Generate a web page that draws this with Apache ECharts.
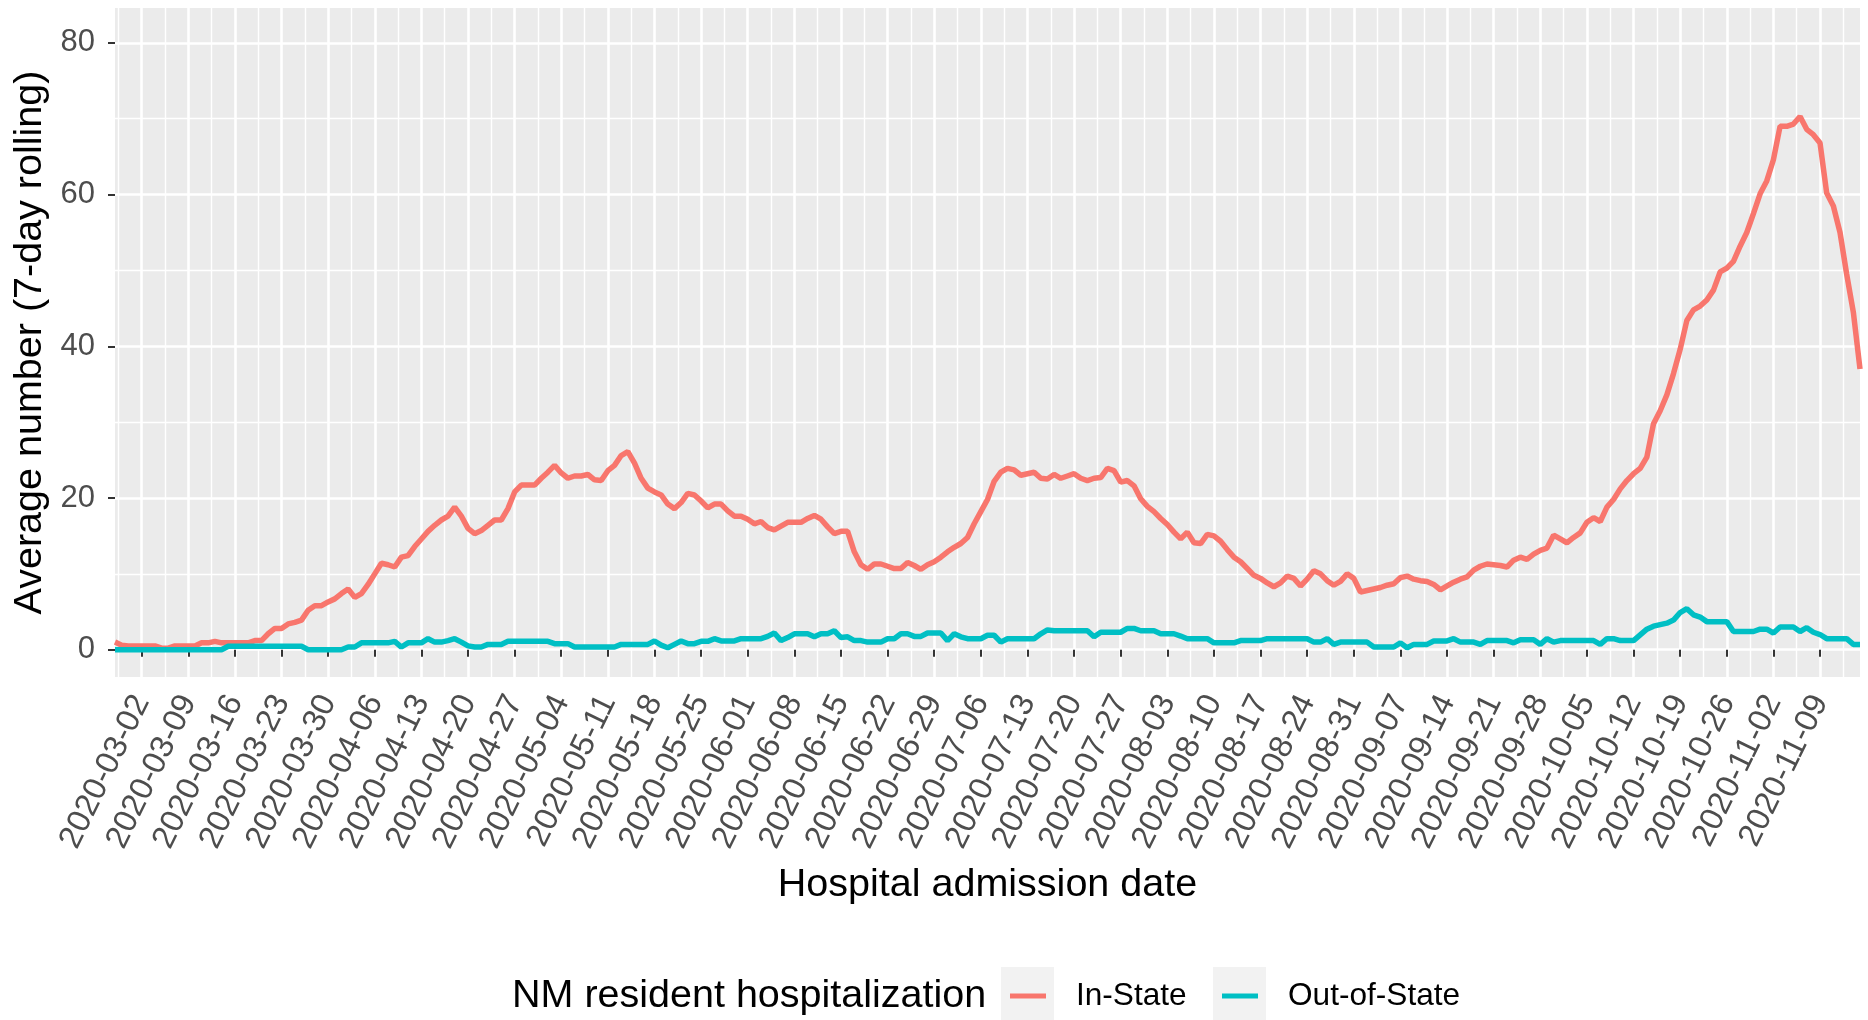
<!DOCTYPE html>
<html><head><meta charset="utf-8">
<script src="https://cdn.jsdelivr.net/npm/echarts@6/dist/echarts.min.js"></script>
<style>html,body{margin:0;padding:0;background:#fff}#c{width:1868px;height:1020px}</style>
</head><body><div id="c"></div>
<script>
// ---- data ----
const startDate = '2020-02-27'; // first day of the series (day index 0)
const weekTickLabels = ['2020-03-02','2020-03-09','2020-03-16','2020-03-23','2020-03-30','2020-04-06','2020-04-13','2020-04-20','2020-04-27','2020-05-04','2020-05-11','2020-05-18','2020-05-25','2020-06-01','2020-06-08','2020-06-15','2020-06-22','2020-06-29','2020-07-06','2020-07-13','2020-07-20','2020-07-27','2020-08-03','2020-08-10','2020-08-17','2020-08-24','2020-08-31','2020-09-07','2020-09-14','2020-09-21','2020-09-28','2020-10-05','2020-10-12','2020-10-19','2020-10-26','2020-11-02','2020-11-09'];
const yTickValues = [0, 20, 40, 60, 80];
const yMinorValues = [10, 30, 50, 70];
const seriesNames = ['In-State', 'Out-of-State'];
// daily 7-day rolling averages, 2020-02-27 .. 2020-11-15
const inState = [
1.0,0.6,0.5,0.5,0.5,0.5,0.5,0.2,0.2,0.5,
0.5,0.5,0.5,0.9,0.9,1.1,0.9,0.9,0.9,0.9,
0.9,1.2,1.2,2.1,2.8,2.8,3.4,3.6,3.9,5.2,
5.8,5.8,6.3,6.7,7.4,8.0,6.9,7.4,8.6,10.0,
11.4,11.2,10.9,12.2,12.4,13.6,14.6,15.6,16.4,17.1,
17.6,18.8,17.6,16.0,15.3,15.7,16.4,17.1,17.1,18.6,
20.8,21.7,21.7,21.7,22.6,23.4,24.3,23.3,22.6,22.9,
22.9,23.1,22.4,22.3,23.6,24.3,25.6,26.1,24.6,22.6,
21.3,20.8,20.4,19.2,18.6,19.4,20.6,20.4,19.6,18.7,
19.2,19.2,18.3,17.6,17.6,17.2,16.6,16.9,16.1,15.8,
16.3,16.8,16.8,16.8,17.3,17.7,17.2,16.2,15.3,15.6,
15.6,12.9,11.2,10.6,11.3,11.3,11.0,10.7,10.7,11.5,
11.1,10.6,11.2,11.6,12.2,12.9,13.5,14.0,14.8,16.6,
18.2,19.8,22.2,23.4,23.9,23.7,23.0,23.2,23.4,22.6,
22.5,23.1,22.6,22.9,23.2,22.6,22.3,22.6,22.7,23.9,
23.6,22.1,22.3,21.6,19.9,18.9,18.2,17.3,16.5,15.5,
14.6,15.5,14.1,14.0,15.2,15.0,14.3,13.2,12.2,11.6,
10.7,9.8,9.4,8.8,8.3,8.8,9.7,9.4,8.4,9.3,
10.4,10.0,9.1,8.5,9.0,10.0,9.4,7.6,7.8,8.0,
8.2,8.5,8.7,9.5,9.7,9.3,9.1,9.0,8.6,7.9,
8.4,8.9,9.3,9.6,10.5,11.0,11.3,11.2,11.1,10.9,
11.8,12.2,11.9,12.6,13.1,13.4,15.1,14.6,14.1,14.8,
15.4,16.8,17.4,16.9,18.8,19.8,21.2,22.3,23.2,23.9,
25.4,29.8,31.5,33.6,36.4,39.6,43.4,44.8,45.3,46.1,
47.4,49.8,50.3,51.2,53.2,55.0,57.5,60.1,61.8,64.6,
69.0,69.0,69.3,70.3,68.6,67.9,66.8,60.2,58.5,55.0,
49.5,44.5,37.0
];
const outState = [
0,0,0,0,0,0,0,0,0,0,
0,0,0,0,0,0,0,0.45,0.45,0.45,
0.45,0.45,0.45,0.45,0.45,0.45,0.45,0.45,0.45,0,
0,0,0,0,0,0.35,0.35,0.9,0.9,0.9,
0.9,0.9,1.1,0.35,0.9,0.9,0.9,1.45,1.0,1.0,
1.2,1.45,1.0,0.5,0.35,0.35,0.7,0.7,0.7,1.1,
1.1,1.1,1.1,1.1,1.1,1.1,0.8,0.8,0.8,0.35,
0.35,0.35,0.35,0.35,0.35,0.35,0.7,0.7,0.7,0.7,
0.7,1.15,0.6,0.25,0.7,1.15,0.8,0.8,1.1,1.1,
1.45,1.15,1.15,1.15,1.45,1.45,1.45,1.45,1.75,2.2,
1.2,1.6,2.1,2.1,2.1,1.7,2.1,2.1,2.5,1.6,
1.7,1.2,1.2,1.0,1.0,1.0,1.45,1.45,2.1,2.1,
1.75,1.75,2.2,2.2,2.2,1.2,2.1,1.7,1.45,1.45,
1.45,1.9,1.9,1.0,1.45,1.45,1.45,1.45,1.45,2.1,
2.6,2.5,2.5,2.5,2.5,2.5,2.5,1.7,2.3,2.3,
2.3,2.3,2.8,2.8,2.5,2.5,2.5,2.1,2.1,2.1,
1.8,1.45,1.45,1.45,1.45,0.9,0.9,0.9,0.9,1.2,
1.2,1.2,1.2,1.45,1.45,1.45,1.45,1.45,1.45,1.45,
1.0,1.0,1.45,0.7,1.0,1.0,1.0,1.0,1.0,0.35,
0.35,0.35,0.35,0.9,0.25,0.7,0.7,0.7,1.15,1.15,
1.15,1.45,1.0,1.0,1.0,0.7,1.2,1.2,1.2,1.2,
0.9,1.3,1.3,1.3,0.7,1.45,1.0,1.2,1.2,1.2,
1.2,1.2,1.2,0.7,1.45,1.45,1.2,1.2,1.2,1.95,
2.7,3.1,3.3,3.5,3.9,4.9,5.4,4.6,4.3,3.7,
3.7,3.7,3.7,2.4,2.4,2.4,2.4,2.7,2.7,2.2,
3.0,3.0,3.0,2.4,2.9,2.3,2.0,1.45,1.45,1.45,
1.45,0.7,0.7
];

// ---- helpers ----
const DAY = 86400000;
const t0 = Date.parse(startDate + 'T00:00:00Z');
const dayOf = s => Math.round((Date.parse(s + 'T00:00:00Z') - t0) / DAY);
const xMajor = weekTickLabels.map(dayOf);
const xMinor = xMajor.map(d => d - 3.5).concat([xMajor[xMajor.length - 1] + 3.5]);
const lastDay = inState.length - 1;
const labelByDay = {};
weekTickLabels.forEach(s => { labelByDay[dayOf(s)] = s; });

const FONT = 'Liberation Sans, Arial, sans-serif';
const Y_MIN = -3.6, Y_MAX = 84.6;

const chart = echarts.init(document.getElementById('c'), null, {renderer: 'canvas'});
chart.setOption({
  animation: false,
  backgroundColor: '#ffffff',
  grid: {left: 115, right: 8, top: 8, bottom: 343, backgroundColor: '#EBEBEB', show: true, borderWidth: 0, outerBoundsMode: 'none'},
  xAxis: [{
    type: 'value', min: 0, max: lastDay, gridIndex: 0,
    axisLine: {show: false},
    axisTick: {show: true, customValues: xMajor, length: 7, lineStyle: {color: '#333333', width: 2}},
    axisLabel: {customValues: xMajor, rotate: 64, margin: 20, color: '#4D4D4D', fontSize: 32.5, fontFamily: FONT,
      formatter: v => labelByDay[Math.round(v)] || ''},
    splitLine: {show: true, lineStyle: {color: '#FFFFFF', width: 2.6}},
    name: 'Hospital admission date', nameLocation: 'middle', nameGap: 188,
    nameTextStyle: {color: '#000000', fontSize: 39.5, fontFamily: FONT}
  }, {
    type: 'value', min: 0, max: lastDay, gridIndex: 0, position: 'bottom',
    axisLine: {show: false},
    axisTick: {show: false, customValues: xMinor},
    axisLabel: {show: false, customValues: xMinor},
    splitLine: {show: true, lineStyle: {color: '#FFFFFF', width: 1.4}}
  }],
  yAxis: [{
    type: 'value', min: Y_MIN, max: Y_MAX, gridIndex: 0,
    axisLine: {show: false},
    axisTick: {show: true, customValues: yTickValues, length: 7, lineStyle: {color: '#333333', width: 2}},
    axisLabel: {customValues: yTickValues, margin: 20, color: '#4D4D4D', fontSize: 31, fontFamily: FONT},
    splitLine: {show: true, lineStyle: {color: '#FFFFFF', width: 2.6}},
    name: 'Average number (7-day rolling)', nameLocation: 'middle', nameGap: 62, nameRotate: 90,
    nameTextStyle: {color: '#000000', fontSize: 39.5, fontFamily: FONT}
  }, {
    type: 'value', min: Y_MIN, max: Y_MAX, gridIndex: 0, position: 'left',
    axisLine: {show: false},
    axisTick: {show: false, customValues: yMinorValues},
    axisLabel: {show: false, customValues: yMinorValues},
    splitLine: {show: true, lineStyle: {color: '#FFFFFF', width: 1.4}}
  }],
  legend: [{
    data: [seriesNames[0]], left: 1010, top: 976, padding: 0, icon: 'rect', itemWidth: 36, itemHeight: 5,
    textStyle: {color: '#000000', fontSize: 31.6, fontFamily: FONT, lineHeight: 40, padding: [0, 0, 0, 25]}
  }, {
    data: [seriesNames[1]], left: 1222, top: 976, padding: 0, icon: 'rect', itemWidth: 36, itemHeight: 5,
    textStyle: {color: '#000000', fontSize: 31.6, fontFamily: FONT, lineHeight: 40, padding: [0, 0, 0, 25]}
  }],
  graphic: [
    {type: 'rect', left: 1001, top: 967, shape: {width: 53, height: 53}, style: {fill: '#F2F2F2'}, z: -1},
    {type: 'rect', left: 1213, top: 967, shape: {width: 53, height: 53}, style: {fill: '#F2F2F2'}, z: -1},
    {type: 'text', left: 512, top: 976, style: {text: 'NM resident hospitalization', fill: '#000000', font: '39.5px ' + FONT}}
  ],
  series: [{
    name: seriesNames[0], type: 'line', xAxisIndex: 0, yAxisIndex: 0,
    data: inState.map((v, i) => [i, v]), showSymbol: false, symbol: 'none',
    color: '#F8766D', lineStyle: {color: '#F8766D', width: 5.5}, z: 3
  }, {
    name: seriesNames[1], type: 'line', xAxisIndex: 0, yAxisIndex: 0,
    data: outState.map((v, i) => [i, v]), showSymbol: false, symbol: 'none',
    color: '#00BFC4', lineStyle: {color: '#00BFC4', width: 5.5}, z: 4
  }]
});
</script></body></html>
